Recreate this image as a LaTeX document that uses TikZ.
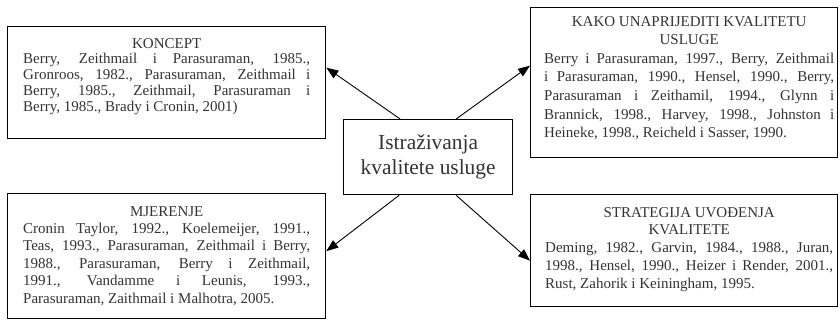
\documentclass[tikz,border=0pt]{standalone}
\usepackage{fontspec}
\setmainfont{Liberation Serif}
\usetikzlibrary{arrows.meta}

\newcommand{\tijelo}[1]{\fontsize{15}{#1}\selectfont\lineskiplimit=-20pt\hyphenpenalty=10000\tolerance=10000}
\newcommand{\srednji}{\fontsize{21.4}{25}\selectfont}

\tikzset{
	okvir/.style={draw, line width=1.3pt, inner sep=0pt, anchor=north west},
	tekst/.style={inner sep=0pt, anchor=north west, align=justify, text=black!80},
	veza/.style={-{Triangle[length=12pt, width=9pt]}, line width=0.9pt},
}

\begin{document}
\begin{tikzpicture}[x=1pt, y=-1pt]
	
	\useasboundingbox (0, 0) rectangle (840, 320);
	
	\node[okvir, minimum width=318pt, minimum height=112pt] (koncept) at (7, 26) {};
	\node[okvir, minimum width=307pt, minimum height=150pt] (kako) at (530, 7) {};
	\node[okvir, minimum width=318pt, minimum height=125pt] (mjerenje) at (7, 193) {};
	\node[okvir, minimum width=307pt, minimum height=112pt] (strategija) at (530, 194) {};
	
	\node[okvir, minimum width=169pt, minimum height=75pt, align=center, font=\srednji, text=black!80] (istrazivanja) at (343, 119) {Istraživanja\\kvalitete usluge};
	
	\node[tekst, text width=287pt, font={\tijelo{15.8}}] (konceptTxt) at ([shift={(16, 12)}]koncept.north west) {{\centering KONCEPT\par}
		Berry, Zeithmail i Parasuraman, 1985.,\linebreak
		Gronroos, 1982., Parasuraman, Zeithmail i\linebreak
		Berry, 1985., Zeithmail, Parasuraman i\linebreak
		Berry, 1985., Brady i Cronin, 2001)};
	
	\node[tekst, text width=290pt, font={\tijelo{18.6}}] (kakoTxt) at ([shift={(14, 9)}]kako.north west) {{\centering KAKO UNAPRIJEDITI KVALITETU\\USLUGE\par}
		Berry i Parasuraman, 1997., Berry, Zeithmail\linebreak
		i Parasuraman, 1990., Hensel, 1990., Berry,\linebreak
		Parasuraman i Zeithamil, 1994., Glynn i\linebreak
		Brannick, 1998., Harvey, 1998., Johnston i\linebreak
		Heineke, 1998., Reicheld i Sasser, 1990.};
	
	\node[tekst, text width=287pt, font={\tijelo{17.4}}] (mjerenjeTxt) at ([shift={(16, 13)}]mjerenje.north west) {{\centering MJERENJE\par}
		Cronin Taylor, 1992., Koelemeijer, 1991.,\linebreak
		Teas, 1993., Parasuraman, Zeithmail i Berry,\linebreak
		1988., Parasuraman, Berry i Zeithmail,\linebreak
		1991., Vandamme i Leunis, 1993.,\linebreak
		Parasuraman, Zaithmail i Malhotra, 2005.};
	
	\node[tekst, text width=288pt, font={\tijelo{17.8}}] (strategijaTxt) at ([shift={(15, 13)}]strategija.north west) {{\centering STRATEGIJA UVOĐENJA\\KVALITETE\par}
		Deming, 1982., Garvin, 1984., 1988., Juran,\linebreak
		1998., Hensel, 1990., Heizer i Render, 2001.,\linebreak
		Rust, Zahorik i Keiningham, 1995.};
	
	\draw[veza] ([xshift=-28pt]istrazivanja.north) -- ([yshift=15pt]koncept.east);
	\draw[veza] ([xshift=28pt]istrazivanja.north) -- ([yshift=17pt]kako.west);
	\draw[veza] ([xshift=-29pt]istrazivanja.south) -- ([yshift=5pt]mjerenje.east);
	\draw[veza] ([xshift=28pt]istrazivanja.south) -- ([yshift=-10pt]strategija.west);
	
\end{tikzpicture}
\end{document}
